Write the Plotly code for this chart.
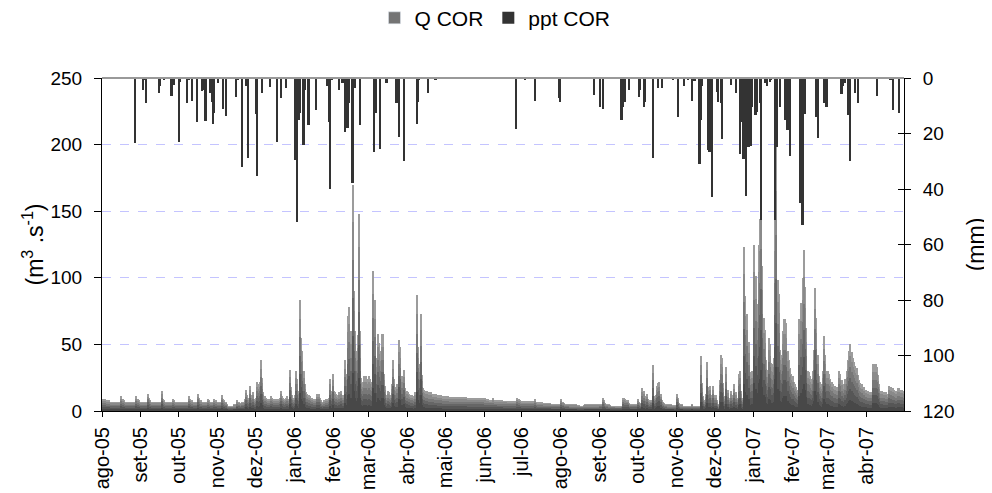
import numpy as np
import pandas as pd
import plotly.graph_objects as go

# vazao diaria Q COR (m3/s), um lista por mes
q_ago05 = [9,9,9,8,8,8,7,7,7,7,7,7,7,7,7,11,9,8,7,7,7,7,7,7,7,7,7,11,9,8,7]
q_set05 = [7,7,7,7,7,13,10,8,7,7,7,7,7,7,7,7,15,9,8,7,7,7,7,7,7,9,8,7,7,7]
q_out05 = [7,7,7,7,7,7,7,7,11,9,8,7,7,7,7,13,10,8,7,7,7,7,7,9,8,7,7,7,9,8,7]
q_nov05 = [7,7,7,12,9,8,7,5,4,4,4,4,4,5,5,8,7,7,6,7,7,9,16,12,10,19,12,9,14,9]
q_dez05 = [10,22,20,22,38,25,14,11,10,9,9,9,11,10,9,9,9,9,9,10,15,11,10,9,10,11,9,31,18,12,10]
q_jan06 = [12,30,24,15,83,55,45,30,20,14,13,12,11,10,10,9,9,9,13,13,10,8,7,8,8,9,9,10,24,15,28]
q_fev06 = [15,14,13,12,14,13,15,12,11,38,28,71,78,43,60,170,90,60,45,57,148,60,25,22,26,24,26,24]
q_mar06 = [26,24,22,105,37,83,40,58,51,45,58,58,28,19,12,15,14,12,20,38,24,18,20,15,53,48,26,22,31,17,15]
q_abr06 = [14,13,12,12,11,11,14,87,48,35,73,27,17,16,15,15,14,14,14,13,13,12.5,12.5,12,12,12,12,11,11,11]
q_mai06 = [11,11,11,10.5,10.5,10.5,10.5,10.5,10.5,10.5,10.5,10.5,10.5,10.5,10.5,10.5,10.5,
           10,10,10,10,10,10,10,10,10,10,10,10,10,10]
q_jun06 = [9.5,9,9,9,8.5,8.5,8.3,9.5,8.3,8.3,8,8,8,8,8,7.8,7.8,7.8,7.5,7.5,7.5,7.5,7.5,7.5,7.5,7.5,10,9,8,7.5]
q_jul06 = [7.5,7.5,7.5,7.5,7.5,7.5,7.5,7.5,7.5,7.5,9,7,6.5,6.5,6.5,6.5,6.5,6,6,6,6,6,6,5.5,5.5,5.5,5.5,5.5,5.3,5.3,5.3]
q_ago06 = [9,7,6,5.5,5.3,5.3,5,5,5,5,5,5,5,4.5,4.5,4,4,4,4.5,5,5,5,5,5,5,5,5,5,5,5,4.5]
q_set06 = [5.5,5.5,10,8,6,5.5,5,5,4.5,4,4,4,3.8,3.8,3.8,3.8,3.8,4,10,9.5,9,8.5,8.3,6,5.5,5.5,5.5,5.5,5.5,5.5]
q_out06 = [9,7,6,17,12.5,15,11,13,9,8,8.5,8,34.6,11,12,19,21,22,13,8,7,6,5.5,5,5,5,5,4.8,4.8,4.5,4.5]
q_nov06 = [13,10,6,5,5,4,4,4,4,4,4,4,5,4,4,4,4,4,4,41,21,11,8,13,37,18,19,12,9,19]
q_dez06 = [12,12,8,5,23,42,40,21,11,33,12,16,10,15,12,20,12,14,10,28,30,15,10,123,86,73,73,52,29,20,30]
q_jan07 = [125,95,101,80,125,144,183,109,70,61,38,31,55,50,36,35,40,144,198,98,88,46,42,60,69,69,66,45,38,32,28]
q_fev07 = [26,22,20,18,16,69,69,81,100,121,93,62,30,29,26,24,30,46,92,70,42,26,22,20,30,56,42,30]
q_mar07 = [30,28,24,22,20,19,19,18,17,30,28,23,20,19,24,30,38,45,50,44,40,37,34,32,27,23,21,20,18,18,16]
q_abr07 = [15,15,14.5,14.5,14,35,35,35,33,27,20,15,15,14.5,14.5,14,13,13,19,18,17,17,16,15,15,17,17,16,16,15]

q_meses = [q_ago05, q_set05, q_out05, q_nov05, q_dez05, q_jan06, q_fev06, q_mar06, q_abr06,
           q_mai06, q_jun06, q_jul06, q_ago06, q_set06, q_out06, q_nov06, q_dez06,
           q_jan07, q_fev07, q_mar07, q_abr07]

# precipitacao ppt COR (mm), so os dias com chuva
ppt_dias = [
    '2005-08-27','2005-09-02','2005-09-03','2005-09-05','2005-09-15','2005-09-16','2005-09-19',
    '2005-09-25','2005-09-27','2005-10-01','2005-10-02','2005-10-07','2005-10-09','2005-10-11',
    '2005-10-15','2005-10-19','2005-10-21','2005-10-22','2005-10-26','2005-10-27','2005-10-28',
    '2005-10-29','2005-11-01','2005-11-05','2005-11-07','2005-11-15','2005-11-17','2005-11-20',
    '2005-11-23','2005-11-25','2005-12-01','2005-12-02','2005-12-06','2005-12-12','2005-12-18',
    '2005-12-21','2005-12-25','2006-01-01','2006-01-02','2006-01-03','2006-01-04','2006-01-05',
    '2006-01-08','2006-01-09','2006-01-12','2006-01-18','2006-01-27','2006-01-28','2006-01-29',
    '2006-01-31','2006-02-05','2006-02-08','2006-02-10','2006-02-12','2006-02-13','2006-02-16',
    '2006-02-18','2006-02-22','2006-03-05','2006-03-07','2006-03-10','2006-03-15','2006-03-23',
    '2006-03-24','2006-03-25','2006-03-29','2006-04-08','2006-04-09','2006-04-10','2006-04-17',
    '2006-04-23','2006-06-26','2006-07-03','2006-07-11','2006-07-30','2006-07-31','2006-08-27',
    '2006-09-01','2006-09-03','2006-09-18','2006-09-19','2006-09-21','2006-09-24','2006-10-02',
    '2006-10-03','2006-10-06','2006-10-07','2006-10-13','2006-10-17','2006-10-20','2006-10-29',
    '2006-11-02','2006-11-07','2006-11-10','2006-11-13','2006-11-15','2006-11-19','2006-11-20',
    '2006-11-21','2006-11-26','2006-11-27','2006-11-29','2006-12-03','2006-12-04','2006-12-06',
    '2006-12-07','2006-12-14','2006-12-18','2006-12-21','2006-12-22','2006-12-24','2006-12-25',
    '2006-12-26','2006-12-28','2006-12-29','2006-12-30','2006-12-31','2007-01-02','2007-01-03',
    '2007-01-04','2007-01-06','2007-01-07','2007-01-10','2007-01-12','2007-01-14','2007-01-15',
    '2007-01-18','2007-01-20','2007-01-22','2007-01-26','2007-01-28','2007-01-30','2007-02-07',
    '2007-02-09','2007-02-11','2007-02-20','2007-02-21','2007-02-26','2007-02-28','2007-03-12',
    '2007-03-13','2007-03-15','2007-03-17','2007-03-19','2007-03-23','2007-03-25','2007-04-09',
    '2007-04-20','2007-04-22','2007-04-27']
ppt_mm = [
    23.3,4.3,0.7,9.1,5.3,3,0.7,
    6.5,2.5,23,1.3,9.1,0.7,8.2,
    16,4.6,4.3,15.4,5.3,8.5,16.6,
    12.7,1.9,11,13.6,7,0.7,32,
    2.9,29,13,35.3,5.5,3.4,23,
    7.3,3.7,29.5,27,52,15,12.7,
    24,4.3,17,11.5,3,16,40,
    0.7,4.3,1.9,19.3,18,9.1,38,
    3.7,17,26.5,12.7,25.6,1.9,9.1,
    7.3,21.4,29.8,16.6,8.8,0.7,5.5,
    0.7,18.5,0.7,8.2,7.3,8.8,6.1,
    10.6,11,15,10.3,8.5,4.3,6.7,
    4.3,10.6,8.8,29,3.7,3.7,0.7,
    14.2,2.9,0.7,8.2,1,31,15,
    2.9,26,26.5,42.8,4.9,8.5,9.1,
    22,2.5,5.5,27.4,15.7,29.3,24.7,
    42.4,25,23.5,24.5,10.3,13.3,13.3,
    12.1,9.1,51,1.9,2.9,1.3,0.7,
    51,25,10.6,15,18.7,28,45,
    53,13,14.2,21.7,8.9,10.6,5.8,
    2.9,1.9,13.3,30,5.5,9.1,6.5,
    0.7,11.5,12.5]

meses_ticks = ['ago-05','set-05','out-05','nov-05','dez-05','jan-06','fev-06','mar-06','abr-06',
               'mai-06','jun-06','jul-06','ago-06','set-06','out-06','nov-06','dez-06','jan-07',
               'fev-07','mar-07','abr-07']

dias = pd.date_range('2005-08-01', '2007-04-30', freq='D')
q = np.concatenate([np.array(m, dtype=float) for m in q_meses])
assert len(q) == len(dias), (len(q), len(dias))
x_q = dias + pd.Timedelta(hours=12)
x_ppt = pd.to_datetime(ppt_dias) + pd.Timedelta(hours=12)
dia_ms = 86400000
fonte = 'Liberation Sans, Arial, sans-serif'

fig = go.Figure()

# barras de vazao com degrade (claro em cima, escuro embaixo)
camadas = [1.0, 5/6, 4/6, 3/6, 2/6, 1/6]
cores = ['#9c9c9c', '#8a8a8a', '#787878', '#666666', '#565656', '#484848']
for f, c in zip(camadas, cores):
    fig.add_trace(go.Bar(x=x_q, y=q * f, width=dia_ms * 1.05, marker_color=c,
                         marker_line_width=0, name='Q COR', legendgroup='q',
                         showlegend=False, hoverinfo='skip'))
fig.add_trace(go.Bar(x=[None], y=[None], marker_color='#747474', name='Q COR', legendgroup='q'))

fig.add_trace(go.Bar(x=x_ppt, y=ppt_mm, width=dia_ms * 1.3, marker_color='#333333',
                     marker_line_width=0, name='ppt COR', yaxis='y2'))
fig.add_trace(go.Scatter(x=[x_q[0]], y=[None], yaxis='y3', showlegend=False, hoverinfo='skip'))

# a pagina tem 8px de margem no body, por isso a figura e 8px menor
fig.update_layout(
    width=984, height=485,
    margin=dict(l=94, r=88, t=70, b=82, autoexpand=False),
    paper_bgcolor='white', plot_bgcolor='white',
    barmode='overlay', bargap=0,
    font=dict(family=fonte, size=19, color='black'),
    legend=dict(orientation='h', x=0.49, xanchor='center', xref='paper',
                y=0.979, yanchor='middle', yref='container',
                font=dict(size=21), traceorder='normal', itemwidth=30),
    xaxis=dict(type='date', range=['2005-08-01', '2007-05-01'], automargin=False,
               tickvals=pd.date_range('2005-08-01', '2007-04-01', freq='MS'),
               ticktext=meses_ticks, tickangle=-90, ticks='outside', ticklen=5,
               tickcolor='black', showline=True, linecolor='black', linewidth=1,
               showgrid=False, ticklabelstandoff=2, tickfont=dict(size=20)),
    yaxis=dict(range=[0, 250], dtick=50, ticks='outside', ticklen=7, tickcolor='black',
               showline=True, linecolor='black', linewidth=1, automargin=False,
               showgrid=True, gridcolor='#c4c4ff', griddash='dash', gridwidth=1,
               zeroline=False, ticklabelstandoff=8,
               title=dict(text='(m<sup>3</sup> .s<sup>-1</sup>)', standoff=0)),
    yaxis2=dict(range=[120, 0], dtick=20, overlaying='y', side='right', anchor='x',
                ticks='outside', ticklen=6, tickcolor='black', showline=True,
                linecolor='black', linewidth=1, showgrid=False, zeroline=False,
                automargin=False, ticklabelstandoff=8, title=dict(text='(mm)', standoff=14)),
    yaxis3=dict(range=[120, 0], dtick=20, overlaying='y', side='right', anchor='x',
                ticks='inside', ticklen=6, tickcolor='black', showticklabels=False,
                showline=False, showgrid=False, zeroline=False, automargin=False),
)
fig.add_shape(type='line', xref='paper', yref='paper', x0=0, x1=1, y0=1, y1=1,
              line=dict(color='#999999', width=2))

fig.write_html('out.html')
